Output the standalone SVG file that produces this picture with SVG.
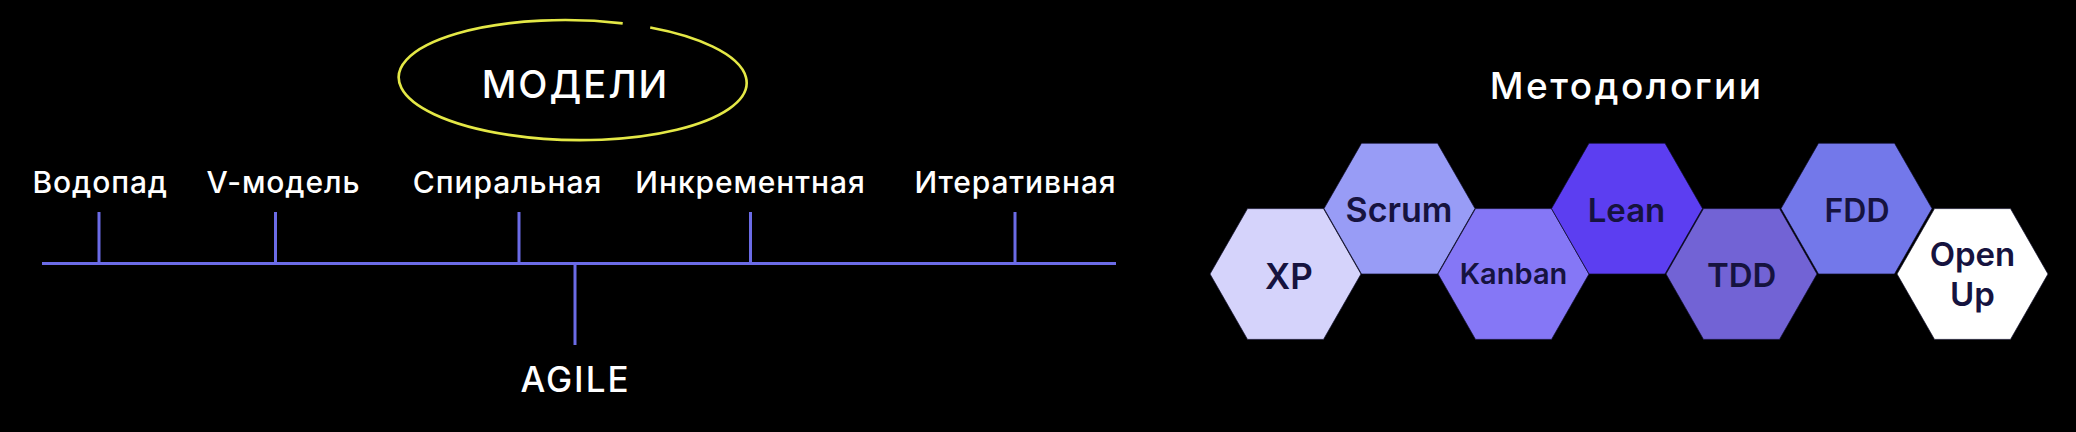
<svg xmlns="http://www.w3.org/2000/svg" xmlns:xlink="http://www.w3.org/1999/xlink" width="2076" height="432" viewBox="0 0 2076 432">
  <style>
    .lbl { font-family: Inter, "Open Sans", "DejaVu Sans", sans-serif; font-weight: 500; fill: #ffffff; text-anchor: middle; }
    .tl { letter-spacing: 0.9px; }
    .axis { stroke: #6b6be6; stroke-width: 3; fill: none; }
    .hex { stroke: #0d0b26; stroke-opacity: 0.7; stroke-width: 1; }
    .ht { font-family: Inter, "Open Sans", "DejaVu Sans", sans-serif; font-weight: 600; fill: #16133f; text-anchor: middle; }
  </style>
  <defs>
    <polygon id="hex" points="-75.5,0 -38,-65.4 38,-65.4 75.5,0 38,65.4 -38,65.4"/>
  </defs>
  <rect x="0" y="0" width="2076" height="432" fill="#000000"/>

  <g id="connectors">
    <line class="axis" x1="42" y1="263.5" x2="1116" y2="263.5"/>
    <line class="axis" x1="99" y1="212" x2="99" y2="263.5"/>
    <line class="axis" x1="275.5" y1="212" x2="275.5" y2="263.5"/>
    <line class="axis" x1="519" y1="212" x2="519" y2="263.5"/>
    <line class="axis" x1="750.5" y1="212" x2="750.5" y2="263.5"/>
    <line class="axis" x1="1015" y1="212" x2="1015" y2="263.5"/>
    <line class="axis" x1="575" y1="263.5" x2="575" y2="345"/>
  </g>

  <g id="models">
    <path d="M 649.3 26.2 A 174 60 0 1 1 621.7 22.5" fill="none" stroke="#e4e846" stroke-width="2.6" transform="rotate(1 572 80)"/>
    <text class="lbl" x="575.5" y="97.5" font-size="38" letter-spacing="2">МОДЕЛИ</text>
  </g>
  <g id="vodopad"><text class="lbl tl" x="100.2" y="193.3" font-size="30">Водопад</text></g>
  <g id="vmodel"><text class="lbl tl" x="283.5" y="193.3" font-size="30">V-модель</text></g>
  <g id="spiral"><text class="lbl tl" x="507.5" y="193.3" font-size="30">Спиральная</text></g>
  <g id="increment"><text class="lbl tl" x="750.5" y="193.3" font-size="30">Инкрементная</text></g>
  <g id="iterative"><text class="lbl tl" x="1015.5" y="193.3" font-size="30">Итеративная</text></g>
  <g id="agile"><text class="lbl" x="575.5" y="392" font-size="35" letter-spacing="2">AGILE</text></g>

  <g id="methodologies"><text class="lbl" x="1626.7" y="99" font-size="37" letter-spacing="2.5">Методологии</text></g>

  <g id="xp">
    <use xlink:href="#hex" href="#hex" class="hex" x="1285.5" y="274" fill="#d5d3fb"/>
    <text class="ht" x="1289" y="289.3" font-size="35">XP</text>
  </g>
  <g id="scrum">
    <use xlink:href="#hex" href="#hex" class="hex" x="1399.5" y="208.6" fill="#989cf6"/>
    <text class="ht" x="1399" y="221.7" font-size="34">Scrum</text>
  </g>
  <g id="kanban">
    <use xlink:href="#hex" href="#hex" class="hex" x="1513.5" y="274" fill="#8577f6"/>
    <text class="ht" x="1513.5" y="284" font-size="29">Kanban</text>
  </g>
  <g id="lean">
    <use xlink:href="#hex" href="#hex" class="hex" x="1627" y="208.6" fill="#5c3ef1"/>
    <text class="ht" x="1626.5" y="221.7" font-size="33">Lean</text>
  </g>
  <g id="tdd">
    <use xlink:href="#hex" href="#hex" class="hex" x="1741.5" y="274" fill="#7263d5"/>
    <text class="ht" x="1741.7" y="286.7" font-size="33">TDD</text>
  </g>
  <g id="fdd">
    <use xlink:href="#hex" href="#hex" class="hex" x="1856.5" y="208.6" fill="#7378ea"/>
    <text class="ht" x="1857" y="221.7" font-size="32">FDD</text>
  </g>
  <g id="openup">
    <use xlink:href="#hex" href="#hex" class="hex" x="1972.5" y="274" fill="#ffffff"/>
    <text class="ht" x="1972.5" y="266" font-size="33">Open</text>
    <text class="ht" x="1972.5" y="306" font-size="33">Up</text>
  </g>
</svg>
